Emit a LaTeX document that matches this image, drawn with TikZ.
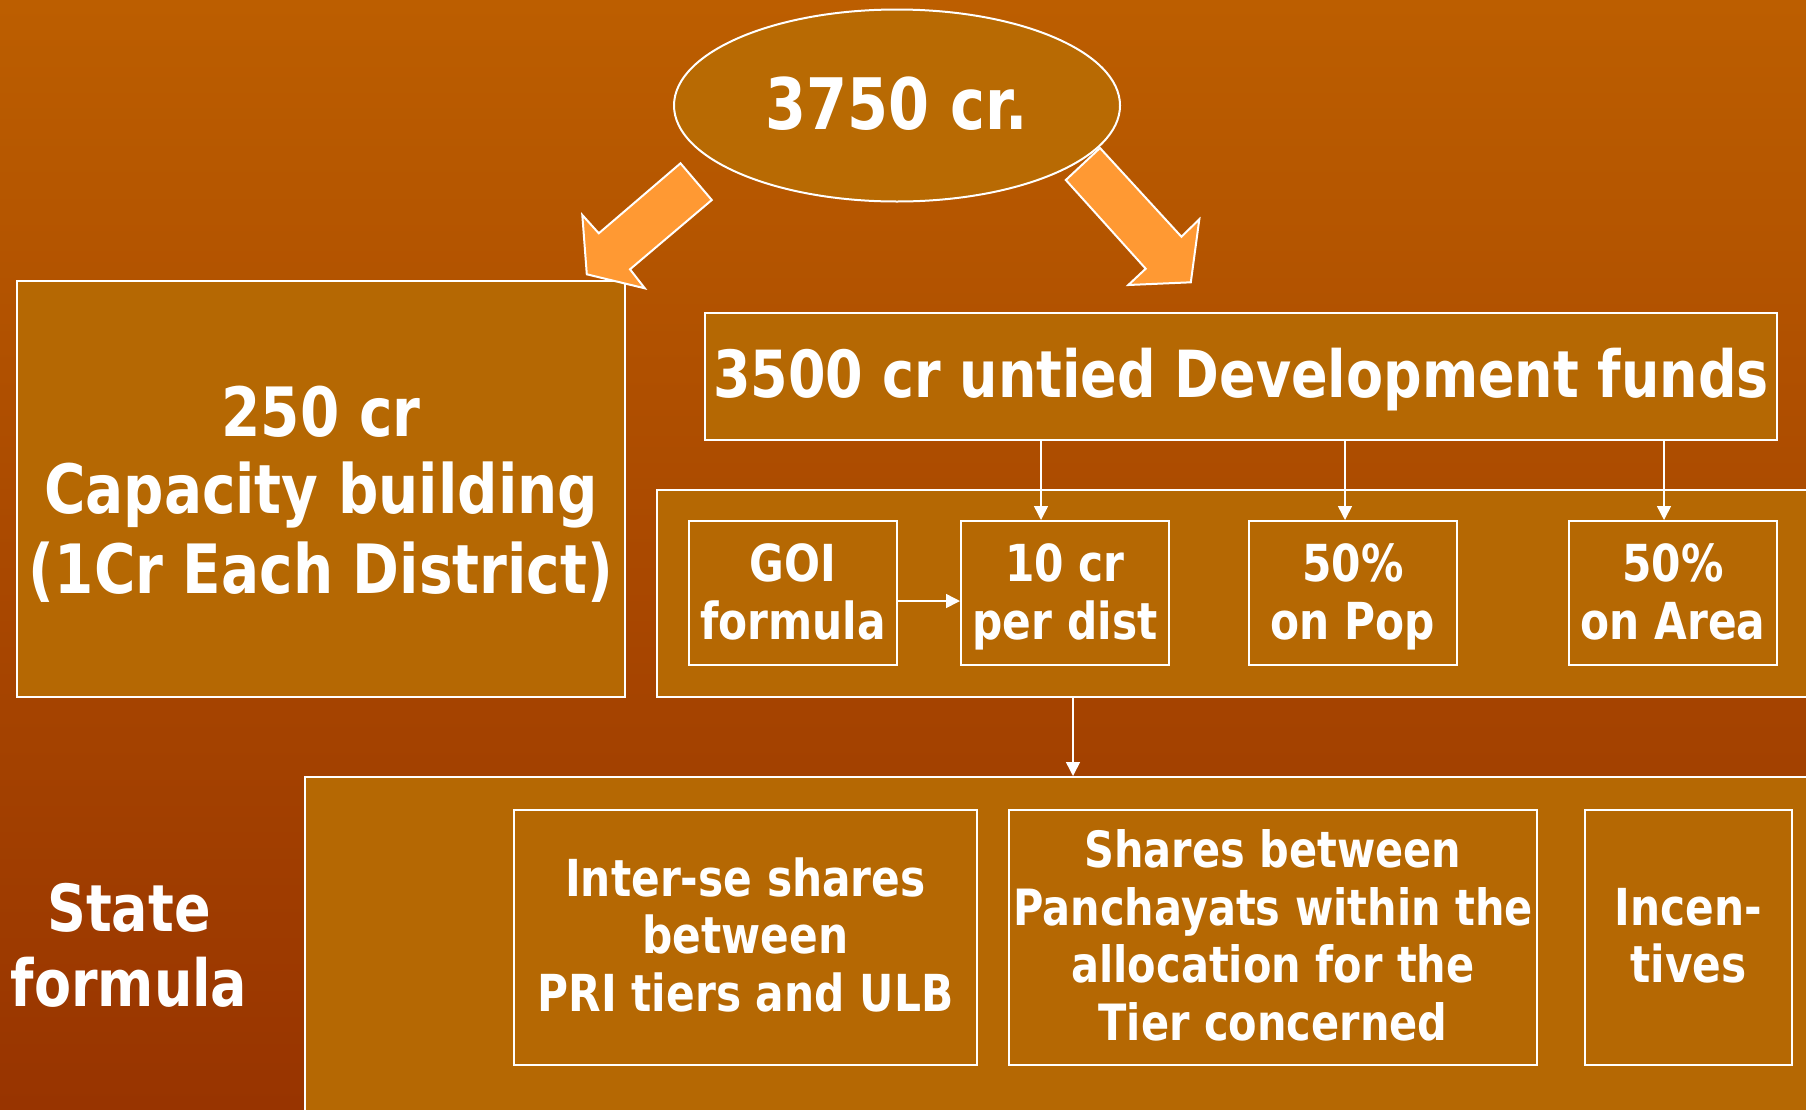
\documentclass[tikz,border=0pt]{standalone}
\usepackage{fontspec}
\setmainfont{DejaVu Sans}[FakeStretch=0.83]
\usetikzlibrary{shapes.geometric,arrows.meta,calc}
\definecolor{bgtop}{HTML}{BC5E00}
\definecolor{bgbot}{HTML}{983400}
\definecolor{boxfill}{HTML}{B56803}
\definecolor{ellfill}{HTML}{B86A03}
\definecolor{arrfill}{HTML}{FF9933}
\newcommand\sth{0.8}
\newcommand\mst{\vrule width 0pt height \sth\baselineskip depth \dimexpr\baselineskip-\sth\baselineskip\relax}
\newcommand\fs[3]{\fontsize{#1}{#2}\selectfont\bfseries\renewcommand\sth{#3}}
\begin{document}
\begin{tikzpicture}[x=1pt,y=-1pt,
  box/.style={draw=white, line width=2pt, fill=boxfill, rectangle, inner sep=0pt, align=center, text=white},
  ell/.style={draw=white, line width=2pt, fill=ellfill, ellipse, inner sep=0pt, align=center, text=white,
    minimum width=446pt, minimum height=192pt},
  inbox/.style={box, minimum width=208pt, minimum height=144pt, font={\fs{51}{58}{0.8}}},
  lowbox/.style={box, minimum height=255pt, font={\fs{51}{57.5}{0.785}}},
  conn/.style={draw=white, line width=1.5pt, -{Triangle[width=14pt,length=14pt]}},
  bigarrow/.style={fill=arrfill, draw=white, line width=2pt, line join=miter}]
\useasboundingbox (0,0) rectangle (1806,1109);
\clip (0,0) rectangle (1806,1109);
\shade[top color=bgtop, bottom color=bgbot] (0,0) rectangle (1806,1109);

\node[ell, font={\fs{71}{70}{0.836}}] (root) at (897,105.5) {\mst 3750 cr.};

\node[box, minimum width=608pt, minimum height=416pt, font={\fs{68}{77}{0.838}}] (cap) at (321,489)
  {\mst 250 cr\\\mst Capacity building\\\mst (1Cr Each District)};

\node[box, minimum width=1072pt, minimum height=127pt, font={\fs{65}{66}{0.856}}] (dev) at (1241,376.5)
  {\mst 3500 cr untied Development funds};

\node[box, minimum width=1163pt, minimum height=207pt] (mid) at (1238.5,593.5) {};
\node[inbox] (goi) at (793,593) {\mst GOI\\\mst formula};
\node[inbox] (ten) at (1065,593) {\mst 10 cr\\\mst per dist};
\node[inbox] (pop) at (1353,593) {\mst 50\%\\\mst on Pop};
\node[inbox] (area) at (1673,593) {\mst 50\%\\\mst on Area};

\node[box, minimum width=1515pt, minimum height=343pt] (bot) at (1062.5,948.5) {};
\node[lowbox, minimum width=463pt] (inter) at (745.5,937.5)
  {\mst Inter-se shares\\\mst between\\\mst PRI tiers and ULB};
\node[lowbox, minimum width=528pt, font={\fs{50}{57.5}{0.785}}] (share) at (1273,937.5)
  {\mst Shares between\\\mst Panchayats within the\\\mst allocation for the\\\mst Tier concerned};
\node[lowbox, minimum width=207pt] (inc) at (1688.5,937.5)
  {\mst Incen-\\\mst tives};

\node[font={\fs{65}{75}{0.8}}, align=center, text=white, inner sep=0pt] (state) at (129,946)
  {\mst State\\\mst formula};

\draw[conn] ([xshift=-24pt]ten.north |- dev.south) -- ([xshift=-24pt]ten.north);
\draw[conn] ([xshift=-8pt]pop.north |- dev.south) -- ([xshift=-8pt]pop.north);
\draw[conn] ([xshift=-9pt]area.north |- dev.south) -- ([xshift=-9pt]area.north);
\draw[conn] ([yshift=-8pt]goi.east) -- ([yshift=-8pt]ten.west);
\draw[conn] ([xshift=8pt]ten.south |- mid.south) -- ([xshift=8pt]ten.south |- bot.north);

\draw[bigarrow] (680.5,163.3) -- (711.8,200) -- (630,269.3) -- (644.8,288.3) -- (586.8,274.3) -- (582.3,215) -- (598.8,233.3) -- cycle;
\draw[bigarrow] (1100,148) -- (1065.8,180) -- (1145.7,268.7) -- (1128.3,285) -- (1190.8,282.3) -- (1199.3,219.3) -- (1181.4,236.7) -- cycle;
\end{tikzpicture}
\end{document}
